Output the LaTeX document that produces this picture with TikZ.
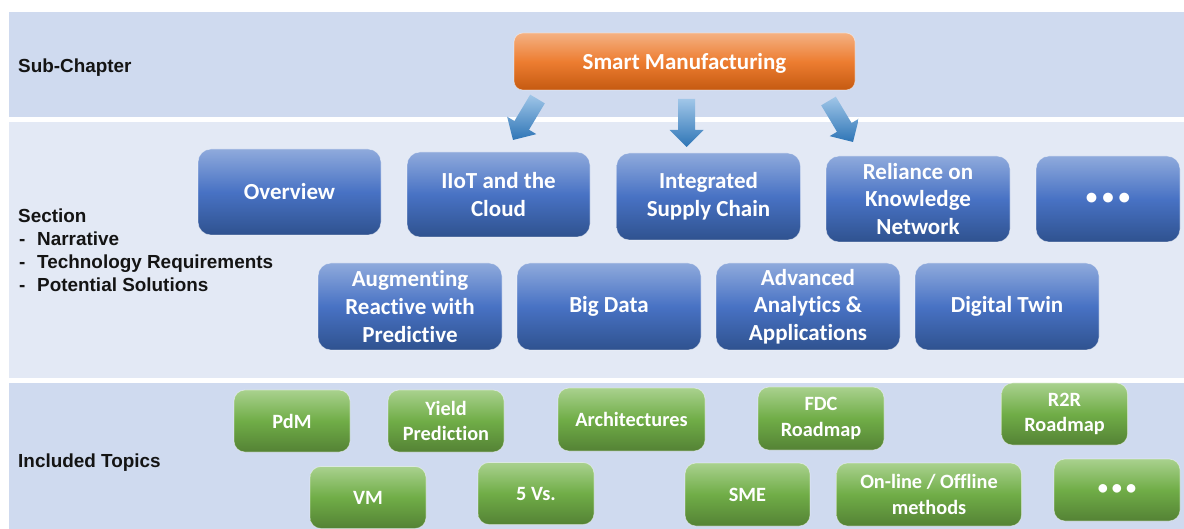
\documentclass[tikz,border=0pt]{standalone}
\usepackage{fontspec}
\usetikzlibrary{calc}
\newfontfamily\boxfont{Carlito}[BoldFont={Carlito Bold},Ligatures=CommonOff]
\newfontfamily\labelfont{Liberation Sans}[BoldFont={Liberation Sans Bold}]

\definecolor{bandA}{RGB}{207,218,239}
\definecolor{bandB}{RGB}{227,233,245}
\definecolor{blueTop}{RGB}{143,170,220}
\definecolor{blueMid}{RGB}{72,114,196}
\definecolor{blueBot}{RGB}{47,82,143}
\definecolor{greenTop}{RGB}{169,209,142}
\definecolor{greenMid}{RGB}{112,173,71}
\definecolor{greenBot}{RGB}{84,130,53}
\definecolor{orangeTop}{RGB}{244,177,131}
\definecolor{orangeMid}{RGB}{237,125,49}
\definecolor{orangeBot}{RGB}{197,90,17}
\definecolor{arrowTop}{RGB}{160,198,232}
\definecolor{arrowBot}{RGB}{46,117,182}
\definecolor{labelInk}{RGB}{20,20,20}

% block arrow from tail #1 to tip #2; #3 names the head base point
\newcommand{\blockarr}[3]{%
  \coordinate (#3) at ($(#2)!17pt!(#1)$);
  \shade[arrowshade] ($(#1)!8.5pt!90:(#2)$) -- ($(#3)!8.5pt!90:(#2)$)
    -- ($(#3)!17pt!90:(#2)$) -- (#2) -- ($(#3)!17pt!-90:(#2)$)
    -- ($(#3)!8.5pt!-90:(#2)$) -- ($(#1)!8.5pt!-90:(#2)$) -- cycle;
}

\tikzset{
  band/.style={fill=#1, draw=none},
  sectionbox/.style={rounded corners=13pt, top color=blueTop, bottom color=blueBot,
    middle color=blueMid, draw=white, draw opacity=0.45, line width=0.7pt,
    text=white, align=center, inner sep=0pt,
    font=\boxfont\bfseries\fontsize{23}{27.6}\selectfont},
  topicbox/.style={rounded corners=11pt, top color=greenTop, bottom color=greenBot,
    middle color=greenMid, draw=white, draw opacity=0.45, line width=0.7pt,
    text=white, align=center, inner sep=0pt,
    font=\boxfont\bfseries\fontsize{20.3}{25.7}\selectfont},
  chapterbox/.style={rounded corners=9pt, top color=orangeTop, bottom color=orangeBot,
    middle color=orangeMid, draw=white, draw opacity=0.45, line width=0.7pt,
    text=white, align=center, inner sep=0pt, text depth=0pt,
    font=\boxfont\bfseries\fontsize{23}{27.6}\selectfont},
  rowlabel/.style={anchor=base west, inner sep=0pt, text=labelInk,
    font=\labelfont\bfseries\fontsize{18.9}{22}\selectfont},
  arrowshade/.style={top color=arrowTop, bottom color=arrowBot, draw=none},
}

\begin{document}
\begin{tikzpicture}[x=1pt,y=-1pt]
\useasboundingbox (0,0) rectangle (1184,529);
\fill[white] (0,0) rectangle (1184,529);

% horizontal bands
\path[band=bandA] (9,12) rectangle (1184,117);
\path[band=bandB] (9,122) rectangle (1184,378);
\path[band=bandA] (9,383) rectangle (1184,529);

% row labels
\node[rowlabel] (lsub) at (18,72.5) {Sub-Chapter};
\node[rowlabel] (lsec) at (18,223) {Section};
\node[rowlabel] (d1) at (19,246) {-};
\node[rowlabel] (l1) at (37,246) {Narrative};
\node[rowlabel] (d2) at (19,269) {-};
\node[rowlabel] (l2) at (37,269) {Technology Requirements};
\node[rowlabel] (d3) at (19,292) {-};
\node[rowlabel] (l3) at (37,292) {Potential Solutions};
\node[rowlabel] (linc) at (18,467) {Included Topics};

% sub-chapter
\node[chapterbox, minimum width=341pt, minimum height=57pt] (sm) at (684.5,61.5) {Smart Manufacturing};

% sections, first row
\node[sectionbox, minimum width=183pt, minimum height=86pt] (ov) at (289.5,192) {Overview};
\node[sectionbox, minimum width=183pt, minimum height=85pt] (iiot) at (498.5,194.5) {IIoT and the\\Cloud};
\node[sectionbox, minimum width=184pt, minimum height=87pt] (isc) at (708.5,196.5) {Integrated\\Supply Chain};
\node[sectionbox, minimum width=184pt, minimum height=86pt] (rkn) at (918,199) {Reliance on\\Knowledge\\Network};
\node[sectionbox, minimum width=144pt, minimum height=86pt] (smore) at (1108,199) {\textbullet\hspace{5pt}\textbullet\hspace{5pt}\textbullet};

% sections, second row
\node[sectionbox, minimum width=184pt, minimum height=87pt] (arp) at (410,306.5) {Augmenting\\Reactive with\\Predictive};
\node[sectionbox, minimum width=184pt, minimum height=87pt] (bd) at (609,306.5) {Big Data};
\node[sectionbox, minimum width=184pt, minimum height=87pt] (aaa) at (808,306.5) {Advanced\\Analytics \&\\Applications};
\node[sectionbox, minimum width=184pt, minimum height=87pt] (dt) at (1007,306.5) {Digital Twin};

% topics, first row
\node[topicbox, minimum width=116pt, minimum height=62pt] (pdm) at (292,421) {PdM};
\node[topicbox, minimum width=116pt, minimum height=62pt] (yp) at (446,421) {Yield\\Prediction};
\node[topicbox, minimum width=147pt, minimum height=63pt] (arch) at (631.5,419.5) {Architectures};
\node[topicbox, minimum width=126pt, minimum height=63pt] (fdc) at (821,418.5) {FDC\\Roadmap};
\node[topicbox, minimum width=126pt, minimum height=62pt] (r2r) at (1064.5,414) {R2R\\Roadmap};

% topics, second row
\node[topicbox, minimum width=116pt, minimum height=62pt] (vm) at (368,497.5) {VM};
\node[topicbox, minimum width=116pt, minimum height=62pt] (fivev) at (536,493.5) {5 Vs.};
\node[topicbox, minimum width=125pt, minimum height=63pt] (sme) at (747.5,494.5) {SME};
\node[topicbox, minimum width=185pt, minimum height=63pt] (onoff) at (929,494.5) {On-line / Offline\\methods};
\node[topicbox, minimum width=126pt, minimum height=62pt] (tmore) at (1117,490) {\textbullet\hspace{4pt}\textbullet\hspace{4pt}\textbullet};

% block arrows from the sub-chapter down to the sections
\coordinate (a1t) at (537.5,99);
\coordinate (a1p) at (513,140);
\coordinate (a2t) at (686.5,99);
\coordinate (a2p) at (686.5,147);
\coordinate (a3t) at (828.5,101);
\coordinate (a3p) at (853,142);
\blockarr{a1t}{a1p}{a1h}
\blockarr{a2t}{a2p}{a2h}
\blockarr{a3t}{a3p}{a3h}
\end{tikzpicture}
\end{document}
